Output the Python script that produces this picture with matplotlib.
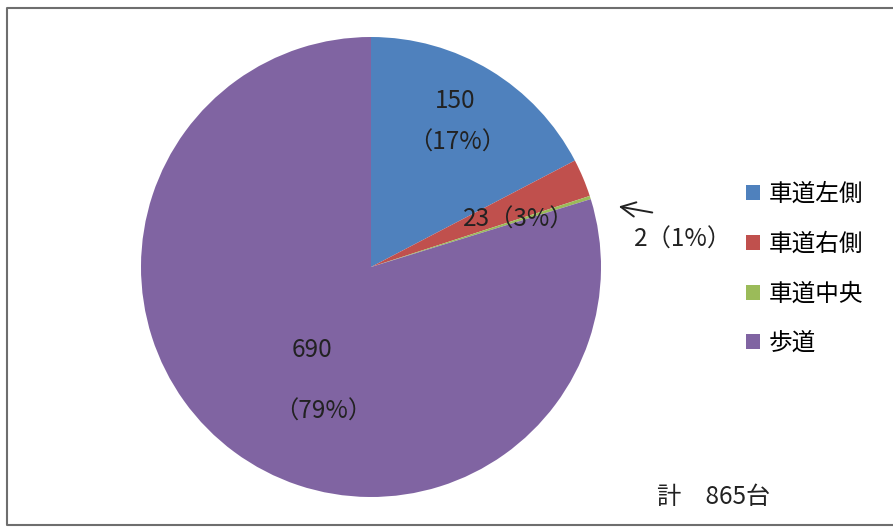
import matplotlib.pyplot as plt
from matplotlib.lines import Line2D
from matplotlib.patches import Patch

plt.rcParams['font.family'] = ['Noto Sans CJK JP', 'DejaVu Sans']

# data
categories = ['車道左側', '車道右側', '車道中央', '歩道']
counts = [150, 23, 2, 690]
percents = [17, 3, 1, 79]
colors = ['#4f81bd', '#c0504d', '#9bbb59', '#8064a2']
total_label = '計　865台'

W, H = 893, 527
fig = plt.figure(figsize=(W / 100, H / 100), dpi=100)

# frame around the chart: left, top and bottom edges only
frame_x = [W + 5, 7, 7, W + 5]
frame_y = [8, 8, 525, 525]
fig.add_artist(Line2D([x / W for x in frame_x], [1 - y / H for y in frame_y],
                      transform=fig.transFigure, color='#6e6e6e', linewidth=1.5))

# pie: center (371, 267), radius 230 px
cx, cy, r = 371, 267, 230
ax = fig.add_axes([(cx - r) / W, (H - cy - r) / H, 2 * r / W, 2 * r / H])
ax.pie(counts, colors=colors, startangle=90, counterclock=False, radius=1.0,
       wedgeprops=dict(linewidth=0))
ax.set_xlim(-1, 1)
ax.set_ylim(-1, 1)
ax.set_aspect('equal')
ax.axis('off')


def px(x, y):
    return x / W, 1 - y / H


txt = dict(fontsize=17.5, color='#222222', ha='center', va='center', transform=fig.transFigure)
fig.text(*px(455, 101), f'{counts[0]}', **txt)
fig.text(*px(457, 143), f'（{percents[0]}%）', **txt)
fig.text(*px(519, 220), f'{counts[1]}（{percents[1]}%）', **txt)
fig.text(*px(683, 240), f'{counts[2]}（{percents[2]}%）', **txt)
fig.text(*px(312, 350), f'{counts[3]}', **txt)
fig.text(*px(323, 412), f'（{percents[3]}%）', **txt)
fig.text(*px(714, 497), total_label, **txt)

# arrow pointing at the tiny green slice
ax_arrow = fig.add_axes([0, 0, 1, 1], facecolor='none')
ax_arrow.set_xlim(0, W)
ax_arrow.set_ylim(H, 0)
ax_arrow.axis('off')
ax_arrow.annotate('', xy=(616, 206), xytext=(655, 213),
                  arrowprops=dict(arrowstyle='->', color='#222222', lw=1.4, mutation_scale=26))

# legend
handles = [Patch(facecolor=c, edgecolor='none') for c in colors]
fig.legend(handles, categories, loc='upper left', bbox_to_anchor=(746 / W, 1 - 183 / H),
           frameon=False, fontsize=17, handlelength=0.6, handleheight=0.6,
           handletextpad=0.35, labelspacing=1.13, borderaxespad=0, borderpad=0)

fig.savefig('out.png', dpi=100)
